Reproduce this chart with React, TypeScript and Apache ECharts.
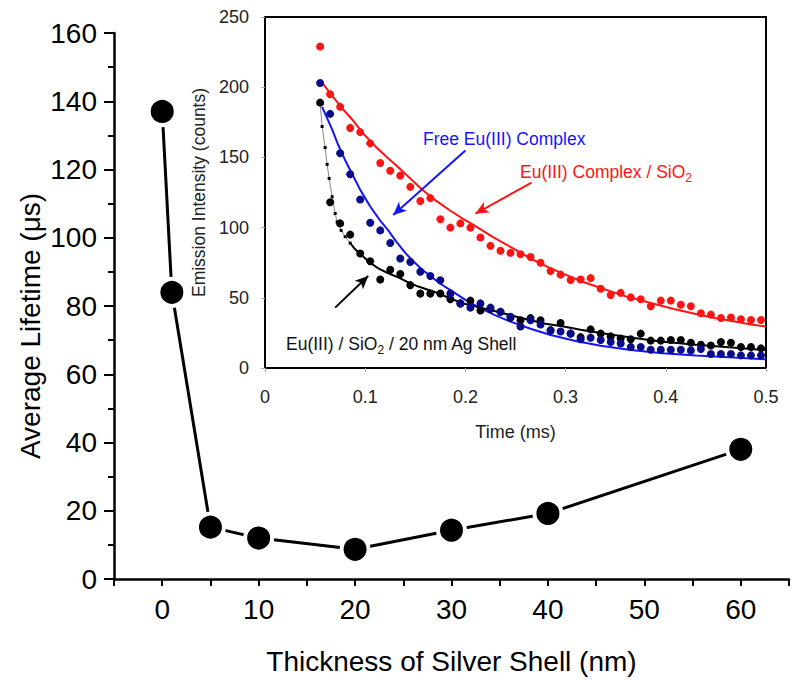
import React, { useEffect, useRef } from 'react';
import * as echarts from 'echarts';

// ---------- main chart data ----------
const thicknessNm = [0, 1, 5, 10, 20, 30, 40, 60];
const avgLifetimeUs = [137, 84, 15.2, 12, 8.7, 14.3, 19.2, 38];
const mainYTicks = [0, 20, 40, 60, 80, 100, 120, 140, 160];

// ---------- inset data ----------
const timeMs = [0.055, 0.065, 0.075, 0.085, 0.095, 0.105, 0.115, 0.125, 0.135, 0.145, 0.155, 0.165, 0.175, 0.185, 0.195,
  0.205, 0.215, 0.225, 0.235, 0.245, 0.255, 0.265, 0.275, 0.285, 0.295, 0.305, 0.315, 0.325, 0.335, 0.345, 0.355,
  0.365, 0.375, 0.385, 0.395, 0.405, 0.415, 0.425, 0.435, 0.445, 0.455, 0.465, 0.475, 0.485, 0.495];
const sio2Counts = [229, 195, 186, 171, 168, 160, 146, 140.5, 137, 129, 119, 121, 106, 100, 103, 100, 93, 87, 83.5, 82, 81,
  79, 75, 69, 66.5, 62.7, 63, 64, 56.5, 52, 53.5, 50.3, 49, 44, 48, 48, 45, 44, 39, 38, 35.6, 36, 34.7, 34.2, 34.2];
const freeCounts = [203, 181, 153, 138, 120, 103.5, 98, 89, 78, 75.5, 68.5, 65.5, 62.5, 53, 46, 43, 46, 43, 40, 36.5, 29.5,
  34, 31, 26.5, 26, 24.5, 20.5, 21.5, 20, 18.5, 17.5, 15, 15, 13, 13, 13, 13, 12.5, 13.5, 10, 10, 10, 9, 9, 9];
const agShellCounts = [189, 118, 103, 95, 81.5, 76, 63, 70, 67, 59, 53, 53, 53, 49, 46, 48, 41, 42, 40, 36, 34, 35.5, 34, 27,
  32, 24.5, 22, 27.5, 24.5, 22.5, 21, 20.5, 24.5, 19.5, 19.5, 20, 20, 18, 16.5, 16, 18.5, 18, 15, 15, 14];

const sio2FitT = [0.057, 0.067, 0.077, 0.087, 0.098, 0.11, 0.122, 0.133, 0.145, 0.157, 0.171, 0.185, 0.196, 0.208, 0.228, 0.248,
  0.265, 0.282, 0.298, 0.315, 0.335, 0.36, 0.387, 0.408, 0.43, 0.45, 0.47, 0.485, 0.5];
const sio2FitV = [203, 194, 185, 177, 167, 158, 150, 143, 135, 127, 119, 112, 107, 102, 93, 85,
  78, 72, 67, 62, 57, 51, 46, 42, 38.5, 35.5, 33, 31, 29.5];
const freeFitT = [0.057, 0.062, 0.067, 0.073, 0.08, 0.085, 0.09, 0.095, 0.1, 0.105, 0.11, 0.116, 0.123, 0.131, 0.14, 0.148,
  0.157, 0.165, 0.175, 0.185, 0.2, 0.215, 0.23, 0.245, 0.265, 0.285, 0.31, 0.335, 0.365, 0.397, 0.43, 0.463, 0.5];
const freeFitV = [186, 178, 170, 159, 148, 141, 134, 127, 121, 115, 110, 104, 98, 90, 82, 76,
  70, 65.5, 60, 55.5, 48.5, 42.5, 37.5, 33, 28, 23.5, 19.3, 15.8, 12.8, 10.5, 8.9, 7.6, 6.2];
const agEarlyFitT = [0.055, 0.057, 0.06, 0.062, 0.064, 0.067, 0.07, 0.072, 0.076, 0.08, 0.085];
const agEarlyFitV = [189, 172, 157, 145, 135, 122, 110, 104, 98, 93.5, 89];
const agFitT = [0.085, 0.09, 0.097, 0.105, 0.113, 0.123, 0.133, 0.143, 0.153, 0.17, 0.185, 0.198, 0.215, 0.232, 0.248, 0.265,
  0.28, 0.298, 0.315, 0.335, 0.365, 0.397, 0.43, 0.463, 0.5];
const agFitV = [89, 84.5, 80, 75, 71, 67.5, 64.5, 61, 58, 54, 49.5, 46, 43, 40, 37, 34,
  31.5, 29.5, 27.2, 25, 21.7, 18.7, 16.5, 14.7, 12.8];

// arrows (data coordinates of the inset): [fromT, fromV, toT, toV]
const freeArrow = [0.2, 155, 0.128, 109];
const sio2Arrow = [0.266, 132, 0.21, 110];
const agArrow = [0.07, 43, 0.103, 65.5];

const FONT = '"Liberation Sans", Arial, Helvetica, sans-serif';
const RED = '#ff1414';
const BLUE = '#1414ff';
const NAVY = '#0a0a8c';

const zip = (xs: number[], ys: number[]) => xs.map((x, i) => [x, ys[i]]);

const arrowLine = (a: number[], color: string) => ({
  silent: true,
  symbol: ['none', 'arrow'],
  symbolSize: [9, 13],
  label: { show: false },
  emphasis: { disabled: true },
  lineStyle: { color, width: 2, type: 'solid' },
  data: [[{ coord: [a[0], a[1]] }, { coord: [a[2], a[3]] }]],
});

export default function App() {
  const ref = useRef<HTMLDivElement>(null);
  useEffect(() => {
    const chart = echarts.init(ref.current!, null, { renderer: 'svg' });
    const option: any = {
      animation: false,
      backgroundColor: '#fff',
      textStyle: { fontFamily: FONT },
      grid: [
        { left: 114, top: 33, right: 11, bottom: 107 },
        {
          left: 265, top: 17, width: 501, height: 351, show: true,
          backgroundColor: '#fff', borderColor: '#000', borderWidth: 2,
        },
      ],
      xAxis: [
        {
          gridIndex: 0, type: 'value', min: -5, max: 65, interval: 5,
          axisLine: { onZero: false, lineStyle: { color: '#000', width: 2.5 } },
          axisTick: { length: 7, lineStyle: { color: '#000', width: 2 } },
          axisLabel: {
            fontSize: 28, color: '#000', margin: 16, fontFamily: FONT,
            formatter: (v: number) => (v % 10 === 0 ? String(v) : ''),
          },
          splitLine: { show: false },
          name: 'Thickness of Silver Shell (nm)', nameLocation: 'middle', nameGap: 68,
          nameTextStyle: { fontSize: 28, color: '#000', fontFamily: FONT },
        },
        {
          gridIndex: 1, type: 'value', min: 0, max: 0.5, interval: 0.1,
          axisLine: { onZero: false, lineStyle: { color: '#000', width: 2 } },
          axisTick: { length: 4, lineStyle: { color: '#aaa', width: 1 } },
          axisLabel: { fontSize: 18, color: '#222', margin: 20, fontFamily: FONT },
          splitLine: { show: false },
          name: 'Time (ms)', nameLocation: 'middle', nameGap: 55,
          nameTextStyle: { fontSize: 18, color: '#222', fontFamily: FONT },
        },
      ],
      yAxis: [
        {
          gridIndex: 0, type: 'value', min: mainYTicks[0], max: mainYTicks[mainYTicks.length - 1], interval: 20,
          axisLine: { show: true, onZero: false, lineStyle: { color: '#000', width: 2.5 } },
          axisTick: { show: true, length: 10, lineStyle: { color: '#000', width: 2 } },
          minorTick: { show: true, splitNumber: 2, length: 6, lineStyle: { color: '#000', width: 2 } },
          axisLabel: { fontSize: 28, color: '#000', margin: 17, fontFamily: FONT },
          splitLine: { show: false },
        },
        {
          gridIndex: 1, type: 'value', min: 0, max: 250, interval: 50,
          axisLine: { show: true, onZero: false, lineStyle: { color: '#000', width: 2 } },
          axisTick: { show: true, length: 4, lineStyle: { color: '#aaa', width: 1 } },
          axisLabel: { fontSize: 18, color: '#222', margin: 16, fontFamily: FONT },
          splitLine: { show: false },
          name: 'Emission Intensity (counts)', nameLocation: 'middle', nameGap: 55,
          nameTextStyle: { fontSize: 17.5, color: '#222', fontFamily: FONT },
        },
      ],
      series: [
        {
          type: 'line', xAxisIndex: 0, yAxisIndex: 0,
          data: zip(thicknessNm, avgLifetimeUs),
          symbol: 'circle', symbolSize: 27,
          itemStyle: { color: '#000', borderColor: '#fff', borderWidth: 4 },
          lineStyle: { color: '#000', width: 3 },
          z: 3,
        },
        // fits
        {
          type: 'line', xAxisIndex: 1, yAxisIndex: 1, data: zip(sio2FitT, sio2FitV),
          smooth: false, showSymbol: false,
          lineStyle: { color: RED, width: 2 }, z: 2,
          markLine: arrowLine(sio2Arrow, RED),
        },
        {
          type: 'line', xAxisIndex: 1, yAxisIndex: 1, data: zip(freeFitT, freeFitV),
          smooth: false, showSymbol: false,
          lineStyle: { color: BLUE, width: 2 }, z: 2,
          markLine: arrowLine(freeArrow, BLUE),
        },
        {
          type: 'line', xAxisIndex: 1, yAxisIndex: 1, data: zip(agEarlyFitT, agEarlyFitV),
          smooth: false, showSymbol: true, symbol: 'rect', symbolSize: 3,
          itemStyle: { color: '#000', opacity: 1 },
          lineStyle: { color: '#888', width: 1 }, z: 2,
        },
        {
          type: 'line', xAxisIndex: 1, yAxisIndex: 1, data: zip(agFitT, agFitV),
          smooth: false, showSymbol: false,
          lineStyle: { color: '#000', width: 2 }, z: 2,
          markLine: arrowLine(agArrow, '#000'),
        },
        // measured dots
        {
          type: 'scatter', xAxisIndex: 1, yAxisIndex: 1, data: zip(timeMs, sio2Counts),
          symbolSize: 8, itemStyle: { color: RED, opacity: 1 }, z: 4,
        },
        {
          type: 'scatter', xAxisIndex: 1, yAxisIndex: 1, data: zip(timeMs, agShellCounts),
          symbolSize: 8, itemStyle: { color: '#000', opacity: 1 }, z: 4,
        },
        {
          type: 'scatter', xAxisIndex: 1, yAxisIndex: 1, data: zip(timeMs, freeCounts),
          symbolSize: 8, itemStyle: { color: NAVY, opacity: 1 }, z: 4,
        },
      ],
      graphic: [
        {
          type: 'text', x: 30, y: 326, rotation: Math.PI / 2, z: 10,
          style: {
            text: 'Average Lifetime (μs)', fill: '#000', font: `28px ${FONT}`,
            align: 'center', verticalAlign: 'middle', textAlign: 'center', textVerticalAlign: 'middle',
          },
        },
        {
          type: 'text', x: 423, y: 139, z: 10,
          style: {
            text: 'Free Eu(III) Complex', fill: BLUE, font: `17.5px ${FONT}`,
            align: 'left', verticalAlign: 'middle', textAlign: 'left', textVerticalAlign: 'middle',
          },
        },
        {
          type: 'text', x: 520, y: 172, z: 10,
          style: {
            text: '{a|Eu(III) Complex / SiO}{s|2}',
            align: 'left', verticalAlign: 'middle', textAlign: 'left', textVerticalAlign: 'middle',
            rich: {
              a: { fill: RED, fontSize: 17.5, fontFamily: FONT },
              s: { fill: RED, fontSize: 12, fontFamily: FONT, padding: [12, 0, 0, 0] },
            },
          },
        },
        {
          type: 'text', x: 286, y: 344, z: 10,
          style: {
            text: '{a|Eu(III) / SiO}{s|2}{a| / 20 nm Ag Shell}',
            align: 'left', verticalAlign: 'middle', textAlign: 'left', textVerticalAlign: 'middle',
            rich: {
              a: { fill: '#111', fontSize: 17.5, fontFamily: FONT },
              s: { fill: '#111', fontSize: 12, fontFamily: FONT, padding: [12, 0, 0, 0] },
            },
          },
        },
      ],
    };
    chart.setOption(option);
    return () => chart.dispose();
  }, []);
  return (
    <div
      ref={ref}
      style={{ position: 'fixed', left: 0, top: 0, width: 800, height: 686, background: '#fff' }}
    />
  );
}
